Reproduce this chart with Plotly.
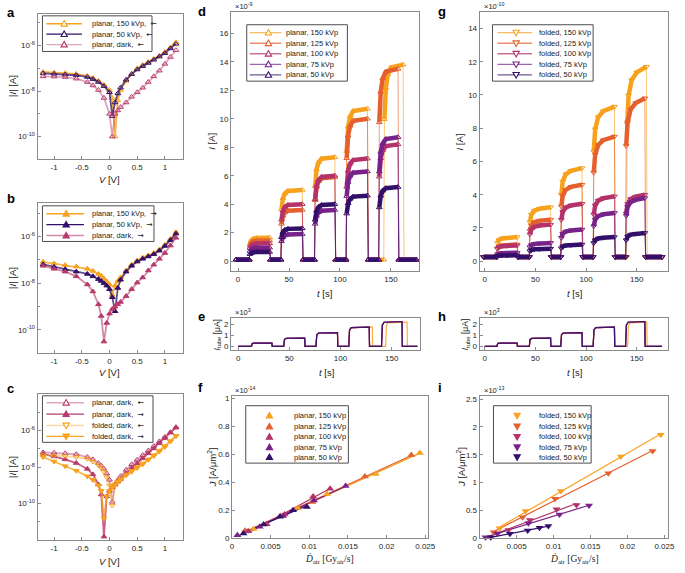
import numpy as np
import plotly.graph_objects as go

W, H = 685, 573
SANS = "Liberation Sans, Arial, sans-serif"
SERIF = "Liberation Serif, DejaVu Serif, serif"

C150, C125, C100, C75, C50 = "#F7A11D", "#E4602E", "#B4336A", "#78238A", "#33106A"
CPINK = "#B83A6C"


def rgba(h, a):
    h = h.lstrip("#")
    r, g, b = int(h[0:2], 16), int(h[2:4], 16), int(h[4:6], 16)
    return f"rgba({r},{g},{b},{a})"

# ---------------- data: panels a-c (log10 |I| in A) ----------------
A_V = [-1.2, -1.0, -0.8, -0.6, -0.4, -0.3, -0.2, -0.1, 0.0, 0.05, 0.1, 0.15, 0.2,
       0.3, 0.4, 0.5, 0.6, 0.7, 0.8, 0.9, 1.0, 1.1, 1.2]
A_LOG_150 = [-7.15, -7.18, -7.2, -7.24, -7.33, -7.42, -7.55, -7.72, -7.95, -8.3, -10.0, -8.4, -7.95,
             -7.55, -7.25, -7.0, -6.85, -6.72, -6.58, -6.44, -6.28, -6.08, -5.85]
A_LOG_50 = [-7.22, -7.24, -7.27, -7.3, -7.38, -7.47, -7.6, -7.78, -8.05, -9.1, -8.5, -8.1, -7.85,
            -7.5, -7.25, -7.05, -6.9, -6.76, -6.62, -6.48, -6.33, -6.12, -5.92]
A_LOG_DARK = [-7.35, -7.36, -7.38, -7.45, -7.6, -7.75, -7.95, -8.3, -9.0, -10.0, -9.0, -8.85, -8.7,
              -8.5, -8.25, -8.05, -7.85, -7.6, -7.35, -7.1, -6.8, -6.5, -6.2]

BC_V = [-1.2, -1.0, -0.8, -0.6, -0.4, -0.3, -0.2, -0.15, -0.1, -0.05, 0.0, 0.05, 0.1, 0.15, 0.2,
        0.3, 0.4, 0.5, 0.6, 0.7, 0.8, 0.9, 1.0, 1.1, 1.2]
B_LOG_150 = [-7.08, -7.15, -7.22, -7.28, -7.38, -7.47, -7.6, -7.68, -7.8, -7.92, -8.05, -8.5, -8.1, -7.9, -7.75,
             -7.45, -7.2, -7.02, -6.9, -6.8, -6.7, -6.55, -6.35, -6.1, -5.8]
B_LOG_50 = [-7.19, -7.3, -7.4, -7.5, -7.6, -7.7, -7.82, -7.9, -8.0, -8.1, -8.25, -8.6, -9.2, -8.2, -7.85,
            -7.5, -7.25, -7.07, -6.95, -6.85, -6.75, -6.6, -6.4, -6.15, -5.87]
B_LOG_DARK = [-7.25, -7.38, -7.5, -7.7, -8.05, -8.35, -8.9, -9.4, -10.5, -9.7, -9.3, -9.1, -9.0, -8.9, -8.8,
              -8.55, -8.25, -7.97, -7.75, -7.45, -7.2, -6.95, -6.7, -6.38, -6.05]

C_LOG_PL_BWD = [-7.2, -7.22, -7.25, -7.3, -7.45, -7.58, -7.78, -7.92, -8.1, -8.35, -8.7, -9.9, -8.95, -8.7, -8.5,
                -8.15, -7.85, -7.6, -7.35, -7.1, -6.85, -6.6, -6.35, -6.1, -5.85]
C_LOG_PL_FWD = [-7.28, -7.42, -7.58, -7.78, -8.1, -8.4, -8.95, -9.5, -11.8, -9.6, -9.3, -9.1, -8.95, -8.8, -8.65,
                -8.35, -8.05, -7.8, -7.52, -7.25, -6.98, -6.7, -6.42, -6.12, -5.82]
C_LOG_FO_BWD = [-7.35, -7.38, -7.4, -7.45, -7.55, -7.7, -7.9, -8.05, -8.25, -8.55, -9.0, -10.1, -9.0, -8.8, -8.65,
                -8.4, -8.2, -8.0, -7.8, -7.58, -7.35, -7.1, -6.85, -6.58, -6.3]
C_LOG_FO_FWD = [-7.45, -7.7, -7.95, -8.2, -8.5, -8.7, -9.0, -9.3, -10.8, -9.6, -9.3, -9.1, -8.95, -8.8, -8.7,
                -8.45, -8.25, -8.05, -7.85, -7.6, -7.4, -7.15, -6.9, -6.6, -6.3]

# ---------------- data: panel d (I, x1e-9 A) ----------------
KVP = ["150", "125", "100", "75", "50"]
D_ON = [11, 42, 75, 106, 138]
D_OFF = [31, 63, 95, 127, 157]
D_ON_150 = [11, 42, 75, 106, 143]
D_OFF_150 = [31, 63, 95, 127, 162]
D_BASE = 0.1
D_T = [-2, 175]
D_150 = [1.65, 5.0, 7.3, 10.7, 13.8]
D_125 = [1.45, 3.6, 5.9, 10.0, 13.5]
D_100 = [1.25, 4.0, 6.0, 7.2, 8.2]
D_75 = [0.95, 1.9, 3.6, 6.3, 8.7]
D_50 = [0.65, 2.3, 4.0, 4.6, 5.2]
D_RISE_DT = [0.6, 2.0, 4.0, 7.0]
D_RISE_FRAC = [0.72, 0.88, 0.95, 0.985]

# ---------------- data: panel g (I, x1e-10 A) ----------------
G_ON = [12, 44, 75, 107, 139]
G_OFF = [32, 65, 96, 128, 158]
G_ON_150 = [12, 44, 75, 107, 140]
G_OFF_150 = [32, 65, 96, 128, 159.5]
G_BASE = 0.25
G_T = [-1, 175]
G_150 = [1.45, 3.25, 5.6, 9.3, 11.7]
G_125 = [1.0, 2.5, 4.6, 7.5, 9.8]
G_100 = [0.95, 2.2, 3.45, 3.9, 4.0]
G_75 = [0.5, 1.1, 1.9, 2.9, 3.8]
G_50 = [0.35, 0.75, 1.0, 1.45, 1.7]
G_RISE_DT = [0.6, 2.0, 5.0, 10.0]
G_RISE_FRAC = [0.7, 0.85, 0.93, 0.97]

# ---------------- data: panels e, h (tube current, x1e3 uA) ----------------
E_ON = [13, 44.5, 76, 108, 140]
E_OFF = [33, 65, 97, 128, 160]
E_ON_150 = [13, 44.5, 76, 108, 144]
E_OFF_150 = [33, 65, 97, 131, 165]
H_ON = [12, 44, 75, 107, 139]
H_OFF = [32, 65, 96, 128, 158]
H_ON_150 = [12, 44, 75, 107, 141]
H_OFF_150 = [32, 65, 96, 128, 160]
TUBE_LEVEL = [0.3, 0.75, 1.25, 1.75, 2.25]
TUBE_LEVEL_150 = [0.3, 0.75, 1.25, 1.75, 2.2]
E_RISE_DT = [0.8, 2.5]
E_RISE_FRAC = [0.85, 0.97]

# ---------------- data: panel f (J x1e-14 vs dose rate) ----------------
F_X = {"150": [0.0028, 0.0085, 0.0123, 0.0186, 0.0243],
       "125": [0.0017, 0.0063, 0.0104, 0.0172, 0.0232],
       "100": [0.0021, 0.0045, 0.0068, 0.0105, 0.0127],
       "75": [0.0007, 0.0036, 0.0066, 0.0106, 0.0147],
       "50": [0.0015, 0.0041, 0.0062, 0.0079, 0.0097]}
F_Y = {"150": [0.066, 0.217, 0.317, 0.461, 0.61],
       "125": [0.054, 0.16, 0.26, 0.442, 0.596],
       "100": [0.05, 0.10, 0.17, 0.30, 0.355],
       "75": [0.022, 0.083, 0.16, 0.27, 0.375],
       "50": [0.035, 0.098, 0.155, 0.20, 0.225]}
# ---------------- data: panel i (J x1e-13 vs dose rate) ----------------
I_X = {"150": [0.0027, 0.0062, 0.0110, 0.0191, 0.0245],
       "125": [0.0019, 0.0058, 0.0102, 0.0174, 0.0234],
       "100": [0.0024, 0.0039, 0.0068, 0.0104, 0.0131],
       "75": [0.0008, 0.0024, 0.0066, 0.0108, 0.0148],
       "50": [0.0015, 0.0041, 0.0065, 0.0081, 0.0093]}
I_Y = {"150": [0.18, 0.49, 0.85, 1.47, 1.86],
       "125": [0.11, 0.38, 0.71, 1.17, 1.57],
       "100": [0.09, 0.15, 0.33, 0.52, 0.60],
       "75": [0.02, 0.08, 0.27, 0.43, 0.59],
       "50": [0.02, 0.08, 0.14, 0.19, 0.22]}

COL = {"150": C150, "125": C125, "100": C100, "75": C75, "50": C50}
D_LEV = {"150": D_150, "125": D_125, "100": D_100, "75": D_75, "50": D_50}
G_LEV = {"150": G_150, "125": G_125, "100": G_100, "75": G_75, "50": G_50}

# ---------------- layout geometry (pixels) ----------------
PANELS = {
    1: ((36, 183), (13, 160)),
    2: ((36, 183), (204, 356)),
    3: ((36, 183), (397, 545)),
    4: ((232, 423), (11, 273)),
    5: ((232, 424), (320, 353)),
    6: ((233, 432), (399, 543)),
    7: ((484, 675), (11, 273)),
    8: ((484, 675), (320, 353)),
    9: ((484, 675), (399, 543)),
}

fig = go.Figure()


def ax_ids(k):
    return ("x" if k == 1 else f"x{k}"), ("y" if k == 1 else f"y{k}")


def add(k, tr):
    xa, ya = ax_ids(k)
    tr.update(xaxis=xa, yaxis=ya, showlegend=False, hoverinfo="skip")
    fig.add_trace(tr)


# ---- a, b, c ----
def iv(k, V, LOG, lc, mc, sym, lw=1.8):
    add(k, go.Scatter(x=V, y=10 ** np.array(LOG), mode="lines+markers",
                      line=dict(color=lc, width=lw),
                      marker=dict(symbol=sym, size=5, color=mc, line=dict(width=1, color=mc))))


iv(1, A_V, A_LOG_150, rgba(C150, 0.8), C150, "triangle-up-open")
iv(1, A_V, A_LOG_50, rgba(C50, 0.75), C50, "triangle-up-open")
iv(1, A_V, A_LOG_DARK, rgba(CPINK, 0.45), CPINK, "triangle-up-open")

iv(2, BC_V, B_LOG_150, rgba(C150, 0.8), C150, "triangle-up")
iv(2, BC_V, B_LOG_50, rgba(C50, 0.75), C50, "triangle-up")
iv(2, BC_V, B_LOG_DARK, rgba(CPINK, 0.6), CPINK, "triangle-up")

iv(3, BC_V, C_LOG_PL_BWD, rgba(CPINK, 0.45), CPINK, "triangle-up-open")
iv(3, BC_V, C_LOG_PL_FWD, rgba(CPINK, 0.8), CPINK, "triangle-up")
iv(3, BC_V, C_LOG_FO_BWD, rgba(C150, 0.4), C150, "triangle-down-open")
iv(3, BC_V, C_LOG_FO_FWD, rgba(C150, 0.8), C150, "triangle-down")


# ---- d, g ----
def pulse_path(on, off, lev, base, rdt, rfr, t0, t1, fall):
    pt, pv, bt, bv = [t0], [base], [t0], [base]
    for k in range(len(on)):
        pt.append(on[k]); pv.append(base)
        bt += [on[k], None]; bv += [base, None]
        for dt, fr in zip(rdt, rfr):
            y = base + fr * (lev[k] - base)
            pt.append(on[k] + dt); pv.append(y)
            bt.append(on[k] + dt); bv.append(y)
        pt.append(off[k]); pv.append(lev[k])
        bt += [off[k], None]; bv += [lev[k], None]
        pt.append(off[k] + fall); pv.append(base)
        bt.append(off[k] + fall); bv.append(base)
    pt.append(t1); pv.append(base)
    bt.append(t1); bv.append(base)
    return pt, pv, bt, bv


for key in KVP:
    on = D_ON_150 if key == "150" else D_ON
    off = D_OFF_150 if key == "150" else D_OFF
    pt, pv, bt, bv = pulse_path(on, off, D_LEV[key], D_BASE, D_RISE_DT, D_RISE_FRAC, D_T[0], D_T[1], 0.8)
    add(4, go.Scatter(x=bt, y=bv, mode="lines", line=dict(color=COL[key], width=4.5), connectgaps=False))
    add(4, go.Scatter(x=pt, y=pv, mode="lines+markers", line=dict(color=rgba(COL[key], 0.6), width=1),
                      marker=dict(symbol="triangle-up-open", size=5, color=COL[key], line=dict(width=1))))

for key in KVP:
    on = G_ON_150 if key == "150" else G_ON
    off = G_OFF_150 if key == "150" else G_OFF
    pt, pv, bt, bv = pulse_path(on, off, G_LEV[key], G_BASE, G_RISE_DT, G_RISE_FRAC, G_T[0], G_T[1], 0.8)
    add(7, go.Scatter(x=bt, y=bv, mode="lines", line=dict(color=COL[key], width=4.5), connectgaps=False))
    add(7, go.Scatter(x=pt, y=pv, mode="lines+markers", line=dict(color=rgba(COL[key], 0.6), width=1),
                      marker=dict(symbol="triangle-down-open", size=5, color=COL[key], line=dict(width=1))))

# ---- e, h ----
for k, ON, OFF, ON150, OFF150 in [(5, E_ON, E_OFF, E_ON_150, E_OFF_150), (8, H_ON, H_OFF, H_ON_150, H_OFF_150)]:
    for key in KVP:
        on = ON150 if key == "150" else ON
        off = OFF150 if key == "150" else OFF
        lev = TUBE_LEVEL_150 if key == "150" else TUBE_LEVEL
        pt, pv, _, _ = pulse_path(on, off, lev, 0.0, E_RISE_DT, E_RISE_FRAC, 0, 175, 0.3)
        add(k, go.Scatter(x=pt, y=pv, mode="lines", line=dict(color=rgba(COL[key], 0.85), width=1.2)))

# ---- f, i ----
for k, XX, YY, sym in [(6, F_X, F_Y, "triangle-up"), (9, I_X, I_Y, "triangle-down")]:
    for key in KVP:
        coef = np.polyfit(XX[key], YY[key], 1)
        xs = [min(XX[key]), max(XX[key])]
        add(k, go.Scatter(x=xs, y=list(np.polyval(coef, xs)), mode="lines",
                          line=dict(color=COL[key], width=1.2)))
    for key in KVP:
        add(k, go.Scatter(x=XX[key], y=YY[key], mode="markers", cliponaxis=False,
                          marker=dict(symbol=sym, size=7, color=COL[key], line=dict(width=0))))

# ---------------- axes ----------------
BASE = dict(showline=True, mirror=True, linecolor="#8a8a8a", linewidth=1, ticks="inside", ticklen=3,
            tickcolor="#8a8a8a", showgrid=False, zeroline=False,
            tickfont=dict(family=SANS, size=8, color="#262626"), fixedrange=True)

LOG_MAJOR = [1e-10, 1e-8, 1e-6]
LOG_MAJOR_TEXT = ["10<sup>-10</sup>", "10<sup>-8</sup>", "10<sup>-6</sup>"]
LOG_MINOR = [1e-12, 1e-11, 1e-9, 1e-7, 1e-5, 1e-4]
LOGY = dict(type="log", tickvals=LOG_MAJOR, ticktext=LOG_MAJOR_TEXT,
            minor=dict(tickvals=LOG_MINOR, ticks="inside", ticklen=2, tickcolor="#8a8a8a", showgrid=False))
VX = dict(range=[-1.3, 1.32], tickvals=[-1, -0.5, 0, 0.5, 1], ticktext=["-1", "-0.5", "0", "0.5", "1"])

AXCFG = {
    1: (VX, dict(LOGY, range=[-11, -4.6])),
    2: (VX, dict(LOGY, range=[-11, -4.55])),
    3: (VX, dict(LOGY, range=[-12, -4])),
    4: (dict(range=[-7, 178], tickvals=[0, 50, 100, 150]),
        dict(range=[-0.7, 17.5], tickvals=list(range(0, 17, 2)))),
    5: (dict(range=[-7, 178], tickvals=[0, 50, 100, 150]),
        dict(range=[-0.35, 2.6], tickvals=[0, 1, 2])),
    6: (dict(range=[0, 0.0254], tickvals=[0, 0.005, 0.01, 0.015, 0.02, 0.025],
             ticktext=["0", "0.005", "0.01", "0.015", "0.02", "0.025"]),
        dict(range=[0, 1.02], tickvals=[0, 0.2, 0.4, 0.6, 0.8, 1], ticktext=["0", "0.2", "0.4", "0.6", "0.8", "1"])),
    7: (dict(range=[-5, 181], tickvals=[0, 50, 100, 150]),
        dict(range=[-0.6, 15], tickvals=list(range(0, 15, 2)))),
    8: (dict(range=[-5, 181], tickvals=[0, 50, 100, 150]),
        dict(range=[-0.35, 2.6], tickvals=[0, 1, 2])),
    9: (dict(range=[0, 0.0255], tickvals=[0, 0.005, 0.01, 0.015, 0.02, 0.025],
             ticktext=["0", "0.005", "0.01", "0.015", "0.02", "0.025"]),
        dict(range=[0, 2.56], tickvals=[0, 0.5, 1, 1.5, 2, 2.5], ticktext=["0", "0.5", "1", "1.5", "2", "2.5"])),
}

layout = dict(width=W, height=H, margin=dict(l=0, r=0, t=0, b=0), paper_bgcolor="white",
              plot_bgcolor="white", showlegend=False, hovermode=False,
              font=dict(family=SANS, size=8, color="#262626"))
for k, ((x0, x1), (y0, y1)) in PANELS.items():
    xa, ya = ax_ids(k)
    xc, yc = AXCFG[k]
    layout["xaxis" if k == 1 else f"xaxis{k}"] = dict(BASE, domain=[x0 / W, x1 / W], anchor=ya, **xc)
    layout["yaxis" if k == 1 else f"yaxis{k}"] = dict(BASE, domain=[1 - y1 / H, 1 - y0 / H], anchor=xa, **yc)
fig.update_layout(**layout)

# ---------------- annotations & legends ----------------
ann = []
shapes = []


def P(x, y):
    return x / W, 1 - y / H


def text(x, y, s, size=9, xa="center", ya="middle", angle=0, family=SANS, color="#1a1a1a"):
    px_, py_ = P(x, y)
    ann.append(dict(x=px_, y=py_, xref="paper", yref="paper", text=s, showarrow=False, xanchor=xa,
                    yanchor=ya, textangle=angle, font=dict(family=family, size=size, color=color)))


# panel letters
for s, x, y in [("a", 3, 2), ("b", 3, 190), ("c", 3, 382), ("d", 197, 1), ("e", 197, 309), ("f", 197, 381),
                ("g", 440, 1), ("h", 440, 309), ("i", 440, 381)]:
    text(x, y, f"<b>{s}</b>", size=13, xa="left", ya="top", color="#000")

# axis titles
for y in (180, 375, 566):
    text(109, y, "<i>V</i> [V]", size=9.5)
for yc in (86, 280, 471):
    text(10, yc, "|<i>I</i>| [A]", size=9.5, angle=-90)
text(327, 296, "<i>t</i> [s]", size=9.5)
text(580, 296, "<i>t</i> [s]", size=9.5)
text(329, 375, "<i>t</i> [s]", size=9.5)
text(580, 375, "<i>t</i> [s]", size=9.5)
text(212, 142, "<i>I</i> [A]", size=9.5, angle=-90)
text(464, 142, "<i>I</i> [A]", size=9.5, angle=-90)
text(218, 337, "<i>I</i><sub>tube</sub> [μA]", size=8.5, angle=-90)
text(470, 337, "<i>I</i><sub>tube</sub> [μA]", size=8.5, angle=-90)
text(213, 471, "<i>J</i> [A/μm<sup>2</sup>]", size=9.5, angle=-90)
text(465, 471, "<i>J</i> [A/μm<sup>2</sup>]", size=9.5, angle=-90)
DLABEL = "<i>Ḋ</i><sub>air</sub> [Gy<sub>air</sub>/s]"
text(332, 564, DLABEL, size=9.5, family=SERIF)
text(580, 564, DLABEL, size=9.5, family=SERIF)

# exponent labels
for x, y, s in [(234, 5, "×10<sup>-9</sup>"), (486, 5, "×10<sup>-10</sup>"), (234, 314, "×10<sup>3</sup>"),
                (486, 314, "×10<sup>3</sup>"), (234, 393, "×10<sup>-14</sup>"), (486, 393, "×10<sup>-13</sup>")]:
    text(x, y, s, size=7.5, xa="left")


def tri(cx, cy, up, col, filled):
    s = 3.2
    if up:
        pts = [(cx, cy - s), (cx + s, cy + s * 0.75), (cx - s, cy + s * 0.75)]
    else:
        pts = [(cx, cy + s), (cx + s, cy - s * 0.75), (cx - s, cy - s * 0.75)]
    pp = [P(a, b) for a, b in pts]
    path = "M {} {} L {} {} L {} {} Z".format(*[v for q in pp for v in q])
    shapes.append(dict(type="path", xref="paper", yref="paper", path=path, layer="above",
                       line=dict(color=col, width=1.1), fillcolor=col if filled else "white"))


def legend(box, rows, line_x, mx, tx, entries):
    (x0, y0, x1, y1) = box
    a0, b0 = P(x0, y0)
    a1, b1 = P(x1, y1)
    shapes.append(dict(type="rect", xref="paper", yref="paper", x0=a0, x1=a1, y0=b1, y1=b0, layer="above",
                       line=dict(color="#4d4d4d", width=1), fillcolor="white"))
    for ry, (lab, lc, mc, up, filled) in zip(rows, entries):
        if line_x is not None:
            p0 = P(line_x[0], ry)
            p1 = P(line_x[1], ry)
            shapes.append(dict(type="line", xref="paper", yref="paper", x0=p0[0], y0=p0[1], x1=p1[0], y1=p1[1],
                               layer="above", line=dict(color=lc, width=1.3)))
        tri(mx, ry, up, mc, filled)
        text(tx, ry, lab, size=7.5, xa="left", color="#1a1a1a")


LARROW = "<span style='font-family:DejaVu Sans'>←</span>"
RARROW = "<span style='font-family:DejaVu Sans'>→</span>"
A_LABELS = ["planar, 150 kVp,  " + LARROW, "planar, 50 kVp,  " + LARROW, "planar, dark,  " + LARROW]
B_LABELS = ["planar, 150 kVp,  " + RARROW, "planar, 50 kVp,  " + RARROW, "planar, dark,  " + RARROW]
C_LABELS = ["planar, dark,  " + LARROW, "planar, dark,  " + RARROW, "folded, dark,  " + LARROW,
            "folded, dark,  " + RARROW]

legend((41, 15, 152, 51), [23, 33.5, 44], (45, 81), 63, 89,
       [(A_LABELS[0], C150, C150, True, False), (A_LABELS[1], C50, C50, True, False),
        (A_LABELS[2], rgba(CPINK, 0.45), CPINK, True, False)])
legend((41, 207, 154, 243), [215, 226, 237], (45, 83), 65, 89,
       [(B_LABELS[0], C150, C150, True, True), (B_LABELS[1], C50, C50, True, True),
        (B_LABELS[2], rgba(CPINK, 0.6), CPINK, True, True)])
legend((41, 399, 153, 446), [406, 417.5, 429, 440], (45, 83), 65, 89,
       [(C_LABELS[0], rgba(CPINK, 0.45), CPINK, True, False), (C_LABELS[1], CPINK, CPINK, True, True),
        (C_LABELS[2], rgba(C150, 0.4), C150, False, False), (C_LABELS[3], C150, C150, False, True)])

ROWS5 = [32, 42.7, 53.3, 64, 74.7]
legend((248, 24, 350, 81), ROWS5, (251, 283), 270, 286,
       [(f"planar, {k} kVp", rgba(COL[k], 0.7), COL[k], True, False) for k in KVP])
legend((497, 24, 599, 81), ROWS5, (502, 537), 521, 542,
       [(f"folded, {k} kVp", rgba(COL[k], 0.7), COL[k], False, False) for k in KVP])
ROWSF = [419, 430, 440.5, 451, 461]
legend((247, 409, 351, 467), ROWSF, None, 271, 294,
       [(f"planar, {k} kVp", None, COL[k], True, True) for k in KVP])
legend((498, 409, 597, 467), ROWSF, None, 522, 542,
       [(f"folded, {k} kVp", None, COL[k], False, True) for k in KVP])

fig.update_layout(annotations=ann, shapes=shapes)
fig.write_html("out.html", config={"displayModeBar": False, "staticPlot": True},
               post_script="document.body.style.margin='0';document.body.style.padding='0';"
                           "document.documentElement.style.overflow='hidden';")
